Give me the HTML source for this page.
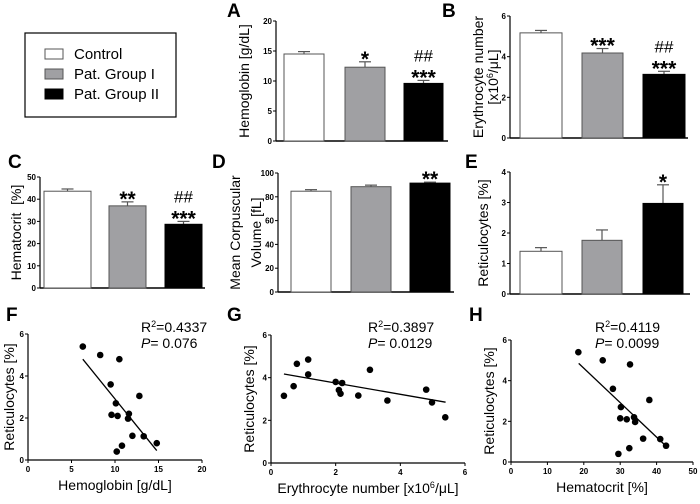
<!DOCTYPE html>
<html><head><meta charset="utf-8"><style>
body{margin:0;background:#fff}
svg{display:block;font-family:"Liberation Sans",sans-serif}
.tk{font-size:8px;font-weight:bold}
.ttl{font-size:14px}
.let{font-size:19px;font-weight:bold}
</style></head><body>
<svg id="fig" width="700" height="504" viewBox="0 0 700 504">
<g>
<rect x="25" y="33" width="151" height="84" fill="none" stroke="#000" stroke-width="1.2"/>
<rect x="45" y="49" width="18" height="10" fill="#fff" stroke="#555"/>
<text x="74" y="59" font-size="15">Control</text>
<rect x="45" y="69" width="18" height="10" fill="#a0a0a3" stroke="#555"/>
<text x="74" y="79" font-size="15">Pat. Group I</text>
<rect x="45" y="89" width="18" height="10" fill="#000" stroke="#000"/>
<text x="74" y="99" font-size="15">Pat. Group II</text>
</g>
</svg>
<script>
// Bar chart data
const hbMeans = [14.5, 12.3, 9.6];
const hbErr = [0.4, 0.9, 0.5];
const eryMeans = [5.17, 4.18, 3.13];
const eryErr = [0.12, 0.22, 0.15];
const hctMeans = [43.6, 37.0, 28.7];
const hctErr = [1.0, 1.8, 1.3];
const mcvMeans = [84.7, 88.5, 91.5];
const mcvErr = [1.3, 1.3, 0.8];
const retMeans = [1.4, 1.76, 2.97];
const retErr = [0.12, 0.34, 0.61];
const hbTicks = [0,5,10,15,20];
const eryTicks = [0,2,4,6];
const hctTicks = [0,10,20,30,40,50];
const mcvTicks = [0,20,40,60,80,100];
const retTicks = [0,1,2,3,4];
const hbStars = ["","*","***"];
const hbHash = ["","","##"];
const eryStars = ["","***","***"];
const eryHash = ["","","##"];
const hctStars = ["","**","***"];
const hctHash = ["","","##"];
const mcvStars = ["","","**"];
const mcvHash = ["","",""];
const retStars = ["","","*"];
const retHash = ["","",""];
// Scatter data
const hbX = [6.3,8.3,10.5,9.5,12.8,10.1,9.6,10.3,11.6,11.5,12.0,13.3,14.8,10.2,10.8];
const hbRet = [5.4,5.0,4.8,3.6,3.05,2.7,2.15,2.1,2.2,1.97,1.15,1.13,0.8,0.4,0.68];
const eryX = [0.4,0.7,0.8,1.15,1.15,2.0,2.2,2.1,2.15,2.7,3.06,3.6,4.8,4.98,5.39];
const eryRet = [3.15,3.6,4.65,4.85,4.15,3.8,3.75,3.42,3.25,3.16,4.37,2.93,3.44,2.84,2.14];
const hctX = [18.5,25.2,32.7,28,38,30.2,30,31.8,33.8,34.1,36.3,41,42.6,29.5,32.5];
const hctRet = [5.4,5.0,4.8,3.6,3.05,2.7,2.15,2.1,2.2,1.97,1.15,1.13,0.8,0.4,0.68];
const fitF = [[6.3,4.8],[14.8,0.45]];
const fitG = [[0.4,4.17],[5.4,2.85]];
const fitH = [[18.6,4.85],[42.5,0.8]];
const xTicksF = [0,5,10,15,20];
const xTicksG = [0,2,4,6];
const xTicksH = [0,10,20,30,40,50];
const scatTicksY = [0,2,4,6];

const NS="http://www.w3.org/2000/svg";
const svg=document.getElementById('fig');
function mk(tag,attrs,parent,txt){const e=document.createElementNS(NS,tag);for(const k in attrs)e.setAttribute(k,attrs[k]);if(txt!==undefined)e.textContent=txt;(parent||svg).appendChild(e);return e;}
const fills=["#ffffff","#a0a0a3","#000000"];

function barPanel(cfg){
  const g=mk('g',{});
  
  
  const y=v=>cfg.y0-v/cfg.max*(cfg.y0-cfg.yTop);
  mk('line',{x1:cfg.ax,y1:cfg.yTop,x2:cfg.ax,y2:cfg.y0,stroke:'#000','stroke-width':1.2},g);
  mk('line',{x1:cfg.ax,y1:cfg.y0,x2:cfg.xEnd,y2:cfg.y0,stroke:'#000','stroke-width':1.5},g);
  cfg.ticks.forEach(t=>{mk('line',{x1:cfg.ax-3,y1:y(t),x2:cfg.ax,y2:y(t),stroke:'#000'},g);
    const tl=mk('text',{x:cfg.ax-4,y:y(t)+3,'text-anchor':'end',class:'tk'},g,t);
    
    });
  cfg.means.forEach((m,i)=>{
    const [x1,x2]=cfg.bars[i];const cx=(x1+x2)/2;const et=y(m+cfg.err[i]);
    mk('line',{x1:cx,y1:y(m),x2:cx,y2:et,stroke:'#555','stroke-width':1.2},g);
    mk('line',{x1:cx-6,y1:et,x2:cx+6,y2:et,stroke:'#555','stroke-width':1.2},g);
    const r=mk('rect',{x:x1,y:y(m),width:x2-x1,height:cfg.y0-y(m),fill:fills[i],stroke:i==2?'#000':'#555','stroke-width':1},g);
    
    
    if(cfg.stars[i]){const st=mk('text',{x:cx,y:et+4,'text-anchor':'middle','font-weight':'bold','font-size':21},g,cfg.stars[i]);
      
      }
    if(cfg.hash[i]){const st=mk('text',{x:cx,y:et-19,'text-anchor':'middle','font-size':17},g,cfg.hash[i]);
      
      }
  });
  const L=mk('text',{x:cfg.lx,y:cfg.ly,class:'let'},g,cfg.letter);
  
  
  cfg.title.forEach((t,k)=>{const tt=mk('text',{transform:`translate(${cfg.tx[k]},${(cfg.yTop+cfg.y0)/2}) rotate(-90)`,'text-anchor':'middle',class:'ttl'},g);
    tt.innerHTML=t;
    
    });
}
barPanel({letter:'A',means:hbMeans,err:hbErr,ticks:hbTicks,stars:hbStars,hash:hbHash,max:20,ax:276,yTop:21,y0:141,xEnd:448,bars:[[284,324],[345,385],[404,443]],lx:227,ly:17,title:['Hemoglobin [g/dL]'],tx:[249]});
barPanel({letter:'B',means:eryMeans,err:eryErr,ticks:eryTicks,stars:eryStars,hash:eryHash,max:6,ax:510,yTop:16,y0:138,xEnd:688,bars:[[520,562],[582,623],[643,685]],lx:442,ly:17,title:['Erythrocyte number','[x10<tspan dy="-5" font-size="9">6</tspan><tspan dy="5">/μL]</tspan>'],tx:[483,498]});
barPanel({letter:'C',means:hctMeans,err:hctErr,ticks:hctTicks,stars:hctStars,hash:hctHash,max:50,ax:40,yTop:177,y0:288,xEnd:205,bars:[[44,91],[109,146],[165,202]],lx:8,ly:168,title:['Hematocrit&#160; [%]'],tx:[21]});
barPanel({letter:'D',means:mcvMeans,err:mcvErr,ticks:mcvTicks,stars:mcvStars,hash:mcvHash,max:100,ax:278,yTop:173,y0:292,xEnd:454,bars:[[291,331],[351,391],[410,450]],lx:212,ly:168,title:['Mean Corpuscular','Volume [fL]'],tx:[240,261]});
barPanel({letter:'E',means:retMeans,err:retErr,ticks:retTicks,stars:retStars,hash:retHash,max:4,ax:510,yTop:172,y0:294,xEnd:690,bars:[[520,562],[582,622],[643,683]],lx:465,ly:168,title:['Reticulocytes [%]'],tx:[488]});

function scatter(cfg){
  const g=mk('g',{});
  
  
  const x=v=>cfg.ax+(v-cfg.xmin)/(cfg.xmax-cfg.xmin)*(cfg.xEnd-cfg.ax);
  const y=v=>cfg.y0-v/6*(cfg.y0-cfg.yTop);
  mk('line',{x1:cfg.ax,y1:cfg.yTop,x2:cfg.ax,y2:cfg.y0,stroke:'#000','stroke-width':1.2},g);
  mk('line',{x1:cfg.ax,y1:cfg.y0,x2:cfg.xEnd,y2:cfg.y0,stroke:'#000','stroke-width':1.2},g);
  scatTicksY.forEach(t=>{mk('line',{x1:cfg.ax-3,y1:y(t),x2:cfg.ax,y2:y(t),stroke:'#000'},g);
    const tl=mk('text',{x:cfg.ax-4,y:y(t)+3,'text-anchor':'end',class:'tk'},g,t);
    
    });
  cfg.xt.forEach(t=>{mk('line',{x1:x(t),y1:cfg.y0,x2:x(t),y2:cfg.y0+3,stroke:'#000'},g);
    const tl=mk('text',{x:x(t),y:cfg.y0+12,'text-anchor':'middle',class:'tk'},g,t);
    
    });
  const f=cfg.fit;
  const ln=mk('line',{x1:x(f[0][0]),y1:y(f[0][1]),x2:x(f[1][0]),y2:y(f[1][1]),stroke:'#000','stroke-width':1.3},g);
  
  
  cfg.xs.forEach((v,i)=>{const c=mk('circle',{cx:x(v),cy:y(cfg.ys[i]),r:3.3,fill:'#000'},g);
    
    });
  const L=mk('text',{x:cfg.lx,y:321,class:'let'},g,cfg.letter);
  
  
  const r2=mk('text',{x:cfg.px,y:332,'font-size':14},g);
  r2.innerHTML='R<tspan dy="-5" font-size="9">2</tspan><tspan dy="5">='+cfg.r2+'</tspan>';
  
  
  const p=mk('text',{x:cfg.px,y:348,'font-size':14},g);
  p.innerHTML='<tspan font-style="italic">P</tspan>= '+cfg.p;
  
  
  const yt=mk('text',{transform:`translate(${cfg.tyx},${(cfg.yTop+cfg.y0)/2}) rotate(-90)`,'text-anchor':'middle',class:'ttl'},g,'Reticulocytes [%]');
  
  
  const xt=mk('text',{x:(cfg.ax+cfg.xEnd)/2,y:cfg.y0+30,'text-anchor':'middle',class:'ttl'},g);
  xt.innerHTML=cfg.xtitle;
  
  
}
scatter({letter:'F',xs:hbX,ys:hbRet,fit:fitF,xt:xTicksF,xmin:0,xmax:20,ax:28,xEnd:202,yTop:334,y0:460,lx:6,px:141,r2:'0.4337',p:'0.076',tyx:14,xtitle:'Hemoglobin [g/dL]'});
scatter({letter:'G',xs:eryX,ys:eryRet,fit:fitG,xt:xTicksG,xmin:0,xmax:6,ax:271,xEnd:465,yTop:335,y0:463,lx:227,px:368,r2:'0.3897',p:'0.0129',tyx:254,xtitle:'Erythrocyte number [x10<tspan dy="-5" font-size="9">6</tspan><tspan dy="5">/μL]</tspan>'});
scatter({letter:'H',xs:hctX,ys:hctRet,fit:fitH,xt:xTicksH,xmin:0,xmax:50,ax:511,xEnd:693,yTop:340,y0:462,lx:469,px:595,r2:'0.4119',p:'0.0099',tyx:494,xtitle:'Hematocrit [%]'});
</script>
</body></html>
